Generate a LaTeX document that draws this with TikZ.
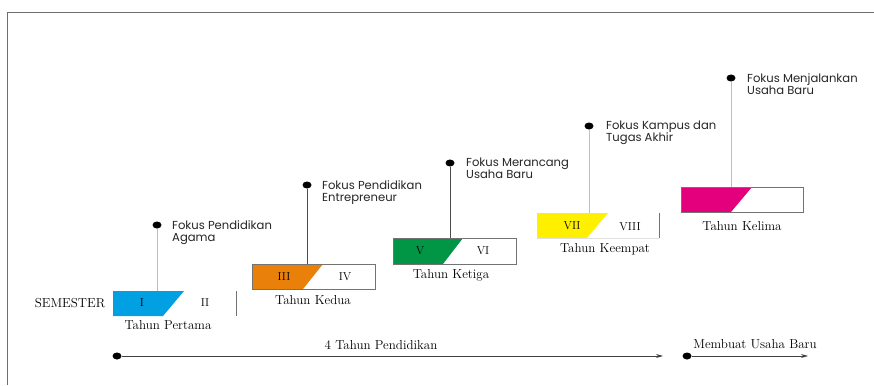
\documentclass[tikz,border=0pt]{standalone}
\usepackage{fontspec}
\newfontfamily\gothic{Poppins}
\usetikzlibrary{shapes.geometric,arrows.meta}
\definecolor{cblue}{RGB}{0,160,226}
\definecolor{corange}{RGB}{232,128,10}
\definecolor{cgreen}{RGB}{0,150,70}
\definecolor{cyellow}{RGB}{255,240,0}
\definecolor{cmag}{RGB}{228,0,125}
\definecolor{framec}{RGB}{110,110,110}
\tikzset{
  yearbox/.style={rectangle, minimum width=123pt, minimum height=25pt, inner sep=0pt, outer sep=0pt},
  bordered/.style={draw=black!55, line width=0.8pt},
  dotnode/.style={ellipse, fill=black, minimum width=9pt, minimum height=7pt, inner sep=0pt},
  stemlight/.style={draw=black!25, line width=1pt},
  stemdark/.style={draw=black!70, line width=1pt},
  focus/.style={anchor=north west, align=left, inner sep=0pt, font=\gothic\fontsize{11.6}{12}\selectfont, text=black!85},
  numeral/.style={font=\fontsize{11.5}{13}\selectfont},
  yearlbl/.style={font=\fontsize{13}{15}\selectfont},
  arr/.style={line width=0.8pt, draw=black!75, -{Stealth[length=7pt,width=4pt]}}
}
\begin{document}
\begin{tikzpicture}[x=1pt,y=-1pt]
\useasboundingbox (0,0) rectangle (874,385);
\fill[white] (0,0) rectangle (874,385);
% frame
\draw[framec, line width=1pt] (7,385) -- (7,13) -- (874,13);

% ---- Year 1
\node[yearbox] (y1) at (174.5,303.5) {};
\fill[cblue] (y1.north west) -- ++(71,0) -- ([xshift=50pt]y1.south west) -- (y1.south west) -- cycle;
\draw[black!55, line width=0.8pt] (y1.north east) -- (y1.south east);
\node[numeral] (s1) at (142,303) {I};
\node[numeral] (s2) at (205,303) {II};
\node[yearlbl] (t1) at (168,325) {Tahun Pertama};
\node[yearlbl] (sem) at (70,303) {SEMESTER};
\node[dotnode] (d1) at (157,225) {};
\draw[stemlight] (d1) -- (d1 |- y1.north);
\node[focus] (f1) at (172,220) {Fokus Pendidikan\\Agama};

% ---- Year 2
\node[yearbox, bordered] (y2) at (313.5,276.5) {};
\fill[corange] (y2.north west) -- ++(71,0) -- ([xshift=51pt]y2.south west) -- (y2.south west) -- cycle;
\draw[black!55, line width=0.8pt] (y2.north west) rectangle (y2.south east);
\node[numeral] (s3) at (284,277) {III};
\node[numeral] (s4) at (345,277) {IV};
\node[yearlbl] (t2) at (313,300) {Tahun Kedua};
\node[dotnode] (d2) at (307,185) {};
\draw[stemdark] (d2) -- (d2 |- y2.north);
\node[focus] (f2) at (322,180) {Fokus Pendidikan\\Entrepreneur};

% ---- Year 3
\node[yearbox, minimum height=26pt] (y3) at (454.5,251) {};
\fill[cgreen] (y3.north west) -- ++(70,0) -- ([xshift=50pt]y3.south west) -- (y3.south west) -- cycle;
\draw[black!55, line width=0.8pt] (y3.north west) rectangle (y3.south east);
\node[numeral] (s5) at (420,251) {V};
\node[numeral] (s6) at (483,251) {VI};
\node[yearlbl] (t3) at (451,275) {Tahun Ketiga};
\node[dotnode] (d3) at (450,163) {};
\draw[stemdark] (d3) -- (d3 |- y3.north);
\node[focus] (f3) at (466,158) {Fokus Merancang\\Usaha Baru};

% ---- Year 4
\node[yearbox, minimum width=122pt] (y4) at (598,225.5) {};
\fill[cyellow] (y4.north west) -- ++(71,0) -- ([xshift=50pt]y4.south west) -- (y4.south west) -- cycle;
\draw[black!55, line width=0.8pt] (y4.north east) -- (y4.south east);
\draw[black!12, line width=0.6pt] (y4.south west) -- (y4.south east);
\node[numeral] (s7) at (572,226) {VII};
\node[numeral] (s8) at (630,227) {VIII};
\node[yearlbl] (t4) at (605,249) {Tahun Keempat};
\node[dotnode] (d4) at (589,126) {};
\draw[stemlight] (d4) -- (d4 |- y4.north);
\node[focus] (f4) at (606,121) {Fokus Kampus dan\\Tugas Akhir};

% ---- Year 5
\node[yearbox, minimum width=122pt] (y5) at (742,199.5) {};
\fill[cmag] (y5.north west) -- ++(71,0) -- ([xshift=50pt]y5.south west) -- (y5.south west) -- cycle;
\draw[black!55, line width=0.8pt] (y5.north west) rectangle (y5.south east);
\node[yearlbl] (t5) at (742,226) {Tahun Kelima};
\node[dotnode] (d5) at (731,78) {};
\draw[stemlight] (d5) -- (d5 |- y5.north);
\node[focus] (f5) at (747,73) {Fokus Menjalankan\\Usaha Baru};

% ---- bottom timeline
\node[dotnode] (b1) at (117,356) {};
\coordinate (b1e) at (663,356);
\draw[arr] (b1) -- (b1e);
\node[yearlbl] (lb1) at (381,345) {4 Tahun Pendidikan};
\node[dotnode] (b2) at (687,356) {};
\coordinate (b2e) at (808,356);
\draw[arr] (b2) -- (b2e);
\node[yearlbl] (lb2) at (755,344) {Membuat Usaha Baru};
\end{tikzpicture}
\end{document}
